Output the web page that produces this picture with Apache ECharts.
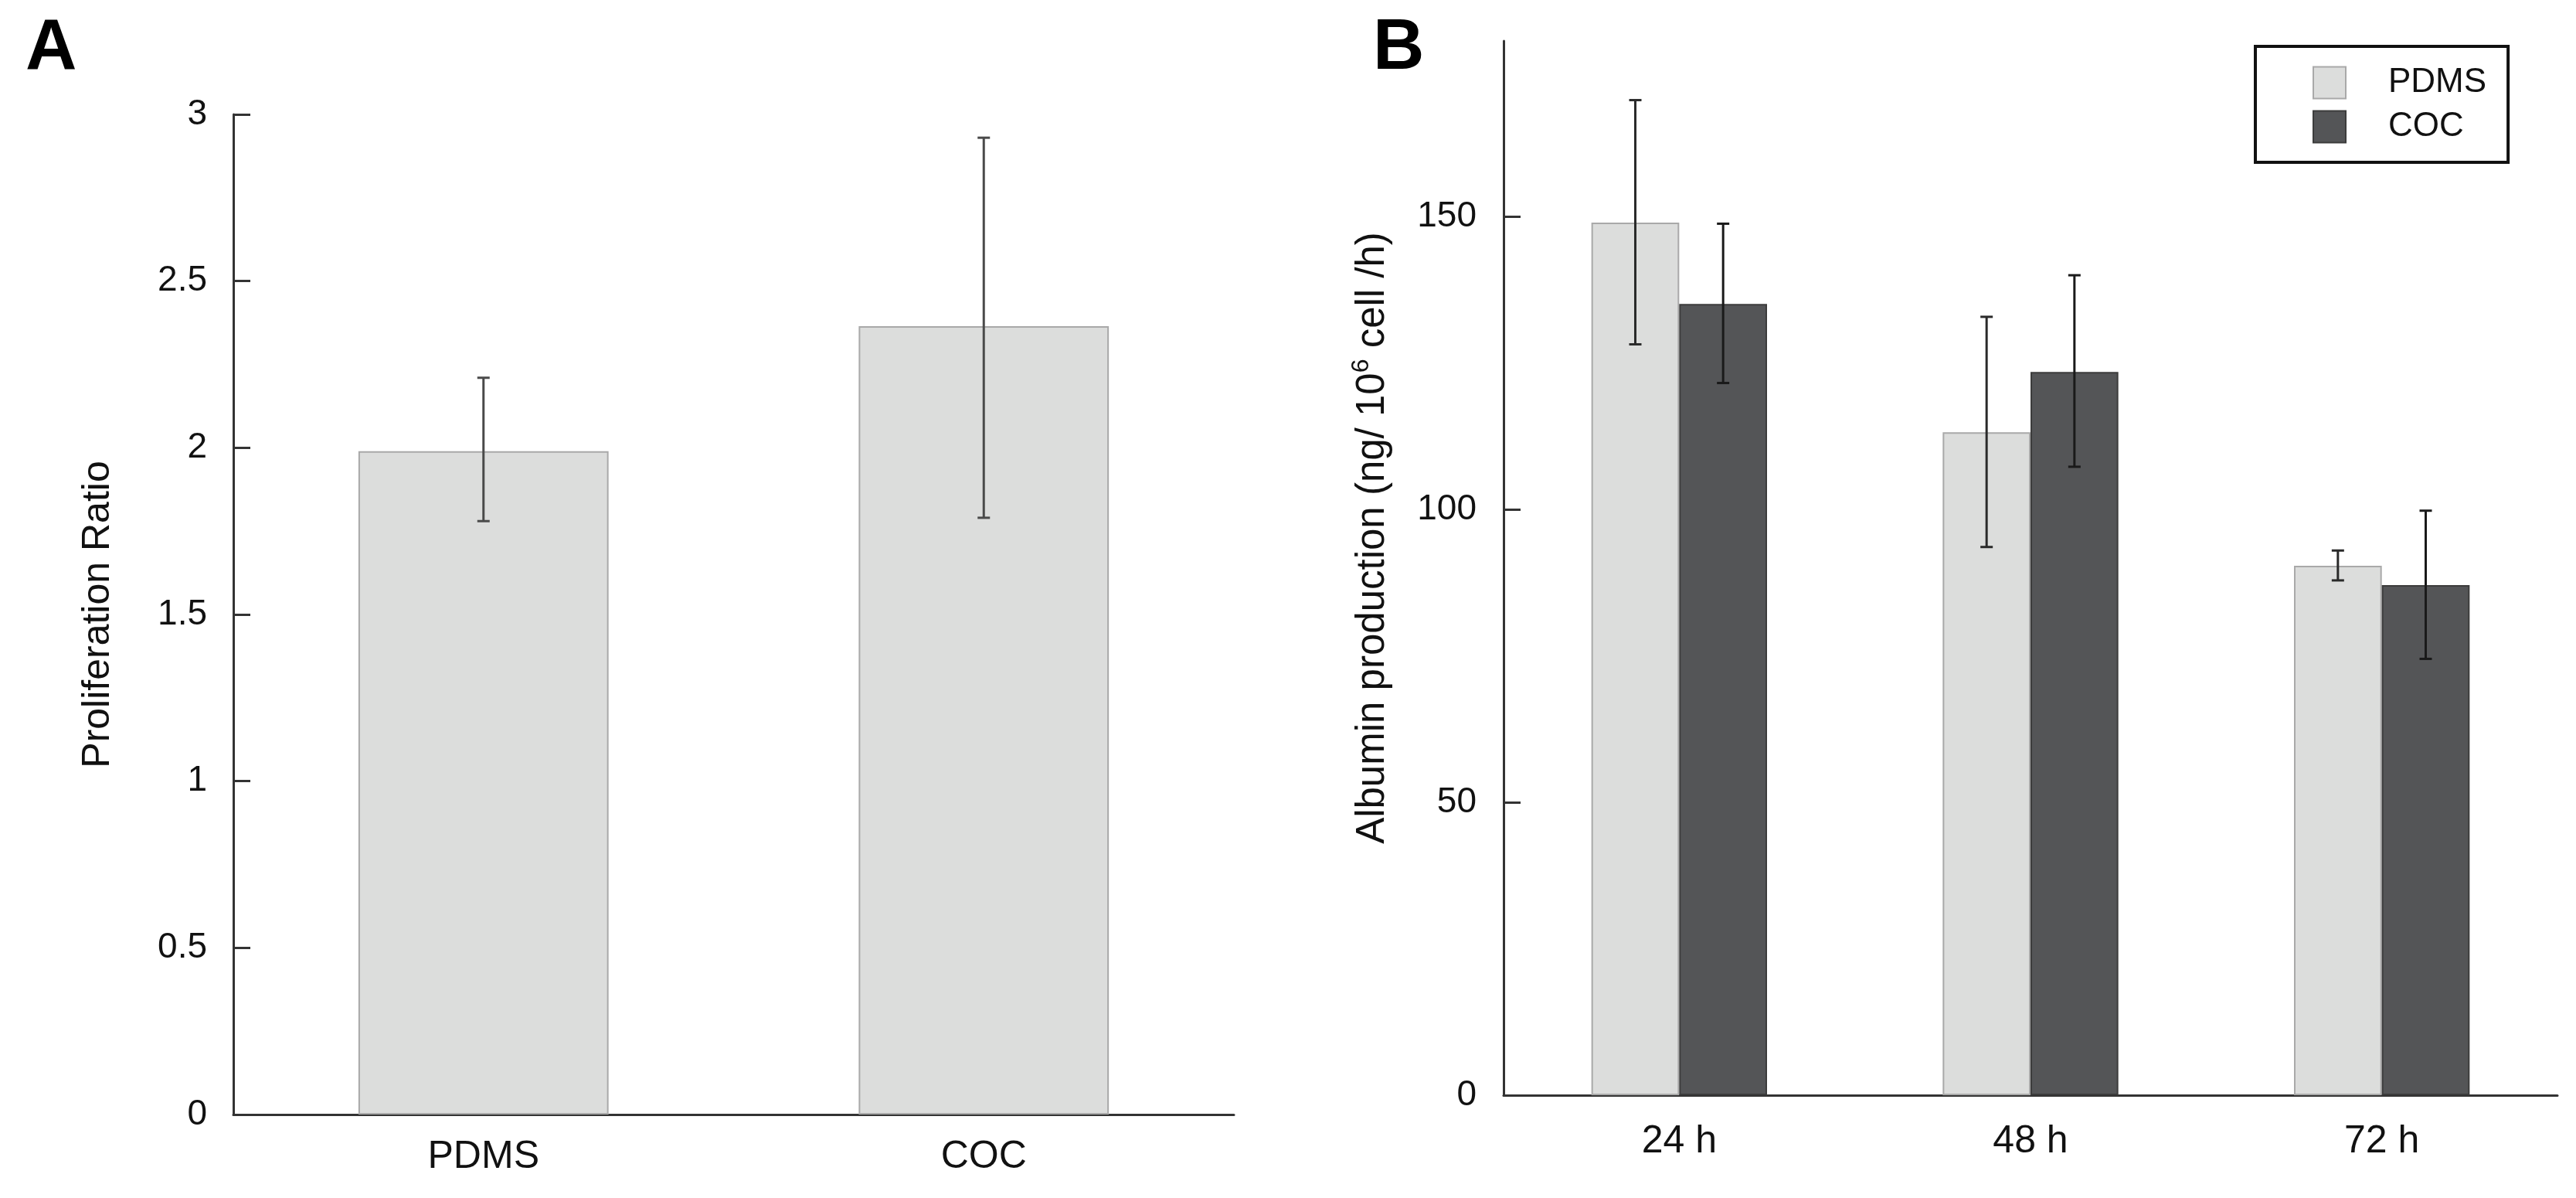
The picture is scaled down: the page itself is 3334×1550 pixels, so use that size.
<!DOCTYPE html>
<html><head><meta charset="utf-8">
<script src="https://cdn.jsdelivr.net/npm/echarts@6/dist/echarts.min.js"></script>
<style>html,body{margin:0;padding:0;background:#fff}#c{width:3334px;height:1550px}</style>
</head><body><div id="c"></div>
<script>
// ---- Panel A data ----
const catsA = ['PDMS', 'COC'];
const ratioA = [1.99, 2.365];
const ratioLowA = [1.78, 1.79];
const ratioHighA = [2.21, 2.93];

// ---- Panel B data ----
const catsB = ['24 h', '48 h', '72 h'];
const seriesNamesB = ['PDMS', 'COC'];
const pdmsB = [149.0, 113.2, 90.4];
const pdmsLowB = [128.2, 93.6, 87.9];
const pdmsHighB = [169.9, 132.9, 93.0];
const cocB = [135.1, 123.5, 87.1];
const cocLowB = [121.6, 107.3, 74.5];
const cocHighB = [148.8, 140.0, 99.8];

const FONT = '"Liberation Sans", Arial, sans-serif';
const TXT = '#111';
const AX = '#333';

function errRender(offsetFrac, color) {
  return function (params, api) {
    const i = api.value(0);
    const lo = api.coord([i, api.value(1)]);
    const hi = api.coord([i, api.value(2)]);
    const band = api.size([1, 0])[0];
    const x = lo[0] + band * offsetFrac;
    const half = 8;
    const style = { stroke: color, lineWidth: 3 };
    return {
      type: 'group', children: [
        { type: 'line', shape: { x1: x, y1: hi[1], x2: x, y2: lo[1] }, style: style },
        { type: 'line', shape: { x1: x - half, y1: hi[1], x2: x + half, y2: hi[1] }, style: style },
        { type: 'line', shape: { x1: x - half, y1: lo[1], x2: x + half, y2: lo[1] }, style: style }
      ]
    };
  };
}

const chart = echarts.init(document.getElementById('c'), null, { renderer: 'canvas' });

const axisLineStyle = { show: true, lineStyle: { color: AX, width: 3 } };

chart.setOption({
  backgroundColor: '#fff',
  animation: false,
  textStyle: { fontFamily: FONT },
  graphic: [
    { type: 'text', left: 33, top: 18, style: { text: 'A', font: 'bold 92px ' + FONT, fill: '#000' } },
    { type: 'text', left: 1777, top: 18, style: { text: 'B', font: 'bold 92px ' + FONT, fill: '#000' } }
  ],
  legend: {
    data: seriesNamesB,
    orient: 'vertical',
    left: 2919, top: 60,
    padding: [25, 28, 24, 74],
    borderColor: '#111', borderWidth: 4,
    icon: 'rect',
    itemWidth: 42, itemHeight: 41, itemGap: 13,
    textStyle: { fontSize: 44, color: TXT, fontFamily: FONT, lineHeight: 41, padding: [0, 0, 0, 50] }
  },
  grid: [
    { left: 302, top: 148, width: 1295, height: 1294 },
    { left: 1946, top: 53, width: 1364, height: 1364 }
  ],
  xAxis: [
    {
      gridIndex: 0, type: 'category', data: catsA,
      axisLine: axisLineStyle, axisTick: { show: false },
      axisLabel: { fontSize: 50, color: TXT, margin: 30, fontFamily: FONT }
    },
    {
      gridIndex: 1, type: 'category', data: catsB,
      axisLine: axisLineStyle, axisTick: { show: false },
      axisLabel: { fontSize: 50, color: TXT, margin: 35, fontFamily: FONT }
    }
  ],
  yAxis: [
    {
      gridIndex: 0, type: 'value', min: 0, max: 3, interval: 0.5,
      name: 'Proliferation Ratio', nameLocation: 'middle', nameGap: 150,
      nameTextStyle: { fontSize: 50, color: TXT, fontFamily: FONT },
      axisLine: axisLineStyle,
      axisTick: { show: true, inside: true, length: 22, lineStyle: { color: AX, width: 3 } },
      axisLabel: { fontSize: 46, color: TXT, margin: 34, fontFamily: FONT },
      splitLine: { show: false }
    },
    {
      gridIndex: 1, type: 'value', min: 0, max: 180, interval: 50,
      name: 'Albumin production (ng/ 10{sup|6} cell /h)', nameLocation: 'middle', nameGap: 138,
      nameTextStyle: {
        fontSize: 51, lineHeight: 62, color: TXT, fontFamily: FONT, padding: [0, 0, 0, 78],
        rich: { sup: { fontSize: 32, lineHeight: 38, verticalAlign: 'top', color: TXT, fontFamily: FONT } }
      },
      axisLine: axisLineStyle,
      axisTick: { show: true, inside: true, length: 22, lineStyle: { color: AX, width: 3 } },
      axisLabel: { fontSize: 46, color: TXT, margin: 35, fontFamily: FONT, showMaxLabel: false },
      splitLine: { show: false }
    }
  ],
  series: [
    {
      name: 'Proliferation Ratio', type: 'bar', xAxisIndex: 0, yAxisIndex: 0,
      data: ratioA, barWidth: '50%',
      itemStyle: { color: '#dcdddc', borderColor: '#a9a9a9', borderWidth: 2 }
    },
    {
      name: 'errA', type: 'custom', xAxisIndex: 0, yAxisIndex: 0, z: 10,
      renderItem: errRender(0, '#4a4a4a'),
      encode: { x: 0, y: [1, 2] },
      data: catsA.map((c, i) => [i, ratioLowA[i], ratioHighA[i]])
    },
    {
      name: seriesNamesB[0], type: 'bar', xAxisIndex: 1, yAxisIndex: 1,
      data: pdmsB, barWidth: '25%', barGap: '0%',
      itemStyle: { color: '#dcdddc', borderColor: '#a9a9a9', borderWidth: 2 }
    },
    {
      name: seriesNamesB[1], type: 'bar', xAxisIndex: 1, yAxisIndex: 1,
      data: cocB, barWidth: '25%', barGap: '0%',
      itemStyle: { color: '#545557', borderColor: '#3c3c3c', borderWidth: 2 }
    },
    {
      name: 'errPDMS', type: 'custom', xAxisIndex: 1, yAxisIndex: 1, z: 10,
      renderItem: errRender(-0.125, '#2a2a2a'),
      encode: { x: 0, y: [1, 2] },
      data: catsB.map((c, i) => [i, pdmsLowB[i], pdmsHighB[i]])
    },
    {
      name: 'errCOC', type: 'custom', xAxisIndex: 1, yAxisIndex: 1, z: 10,
      renderItem: errRender(0.125, '#1a1a1a'),
      encode: { x: 0, y: [1, 2] },
      data: catsB.map((c, i) => [i, cocLowB[i], cocHighB[i]])
    }
  ]
});
</script>
</body></html>
